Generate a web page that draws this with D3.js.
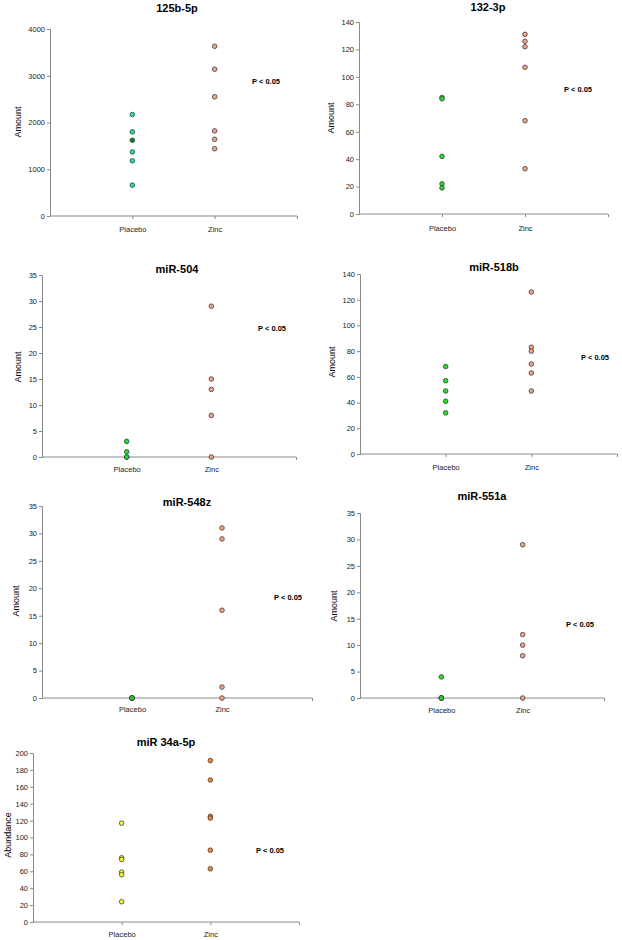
<!DOCTYPE html>
<html>
<head>
<meta charset="utf-8">
<script src="https://cdn.jsdelivr.net/npm/d3@7"></script>
<style>
  html, body { margin: 0; padding: 0; background: #fff; }
  svg { display: block; font-family: "Liberation Sans", Arial, sans-serif; -webkit-font-smoothing: antialiased; }
</style>
</head>
<body>
<svg id="chart" width="622" height="940"></svg>
<script>
// ---------------- DATA ----------------
const categories = ["Placebo", "Zinc"];
const titles = ["125b-5p", "132-3p", "miR-504", "miR-518b", "miR-548z", "miR-551a", "miR 34a-5p"];
const yLabels = ["Amount", "Amount", "Amount", "Amount", "Amount", "Amount", "Abundance"];
const pLabel = "P < 0.05";
const yMaxes = [4000, 140, 35, 140, 35, 35, 200];
const yTickSteps = [1000, 20, 5, 20, 5, 5, 20];

const mir125bPlacebo = [2170, 1800, 1620, 1370, 1180, 660];
const mir125bZinc    = [3630, 3140, 2550, 1820, 1640, 1440];
const mir132Placebo  = [85, 84, 42, 22, 19];
const mir132Zinc     = [131, 126, 122, 107, 68, 33];
const mir504Placebo  = [3, 1, 0, 0];
const mir504Zinc     = [29, 15, 13, 8, 0];
const mir518bPlacebo = [68, 57, 49, 41, 32];
const mir518bZinc    = [126, 83, 80, 70, 63, 49];
const mir548zPlacebo = [0, 0, 0, 0, 0];
const mir548zZinc    = [31, 29, 16, 2, 0];
const mir551aPlacebo = [4, 0, 0, 0, 0];
const mir551aZinc    = [29, 12, 10, 8, 0];
const mir34aPlacebo  = [117, 76, 74, 59, 56, 24];
const mir34aZinc     = [191, 168, 125, 123, 85, 63];

const placeboSeries = [mir125bPlacebo, mir132Placebo, mir504Placebo, mir518bPlacebo, mir548zPlacebo, mir551aPlacebo, mir34aPlacebo];
const zincSeries    = [mir125bZinc, mir132Zinc, mir504Zinc, mir518bZinc, mir548zZinc, mir551aZinc, mir34aZinc];

// ---------------- LAYOUT / STYLE ----------------
const layouts = [
  {x0: 50,  x1: 297, yTop: 29,  y0: 216, title: [177, 12],  p: [266, 84],  yl: [18, 122],  xl: 232},
  {x0: 359, x1: 608, yTop: 22,  y0: 214, title: [488, 11],  p: [578, 92],  yl: [331, 118], xl: 231},
  {x0: 42,  x1: 296, yTop: 275, y0: 457, title: [177, 273], p: [272, 331], yl: [18, 367],  xl: 472},
  {x0: 360, x1: 617, yTop: 274, y0: 454, title: [494, 271], p: [595, 360], yl: [332, 362], xl: 470},
  {x0: 42,  x1: 312, yTop: 506, y0: 698, title: [187, 506], p: [288, 600], yl: [16, 601],  xl: 712},
  {x0: 360, x1: 604, yTop: 513, y0: 698, title: [482, 500], p: [580, 627], yl: [334, 606], xl: 713},
  {x0: 33,  x1: 299, yTop: 753, y0: 922, title: [166, 746], p: [270, 853], yl: [8, 835],   xl: 937}
];
const placeboColors = ["#19e6a0", "#22e022", "#22e022", "#22e022", "#22e022", "#22e022", "#ffff20"];
const zincColors    = ["#f5a47c", "#f5a47c", "#f5a47c", "#f5a47c", "#f5a47c", "#f5a47c", "#f88a1c"];
const highlight = {panel: 0, index: 2, color: "#0a8a1a"};

const svg = d3.select("#chart");

layouts.forEach((L, i) => {
  const g = svg.append("g");
  const x = d3.scaleLinear().domain([0, 3]).range([L.x0, L.x1]);
  const y = d3.scaleLinear().domain([0, yMaxes[i]]).range([L.y0, L.yTop]);
  const ticks = d3.range(0, yMaxes[i] + 1e-9, yTickSteps[i]);

  // y axis
  const ya = g.append("g").attr("transform", `translate(${L.x0},0)`)
    .call(d3.axisLeft(y).tickValues(ticks).tickSize(3).tickPadding(2).tickFormat(d3.format("d")));
  ya.select(".domain").attr("stroke", "#8a8a8a");
  ya.selectAll(".tick line").attr("stroke", "#8a8a8a");
  ya.selectAll("text").attr("font-size", 7.5).attr("fill", "#222").attr("font-family", "Liberation Sans, Arial, sans-serif");

  // x axis
  const xa = g.append("g").attr("transform", `translate(0,${L.y0})`)
    .call(d3.axisBottom(x).tickValues([1, 2, 3]).tickSizeOuter(0).tickSize(3).tickPadding(9)
      .tickFormat(d => categories[d - 1] || ""));
  xa.select(".domain").attr("stroke", "#8a8a8a").attr("d", `M${L.x0},0H${L.x1}`);
  xa.selectAll(".tick line").attr("stroke", "#8a8a8a");
  xa.selectAll("text").attr("font-size", 7.5).attr("fill", "#222").attr("font-family", "Liberation Sans, Arial, sans-serif")
    .attr("dy", null)
    .attr("y", L.xl - L.y0);

  // title
  g.append("text").attr("x", L.title[0]).attr("y", L.title[1]).attr("text-anchor", "middle")
    .attr("font-size", 11).attr("font-weight", "bold").attr("fill", "#000").text(titles[i]);

  // y label
  g.append("text").attr("transform", `translate(${L.yl[0] + 3},${L.yl[1]}) rotate(-90)`)
    .attr("text-anchor", "middle").attr("font-size", 9).attr("fill", "#000").text(yLabels[i]);

  // p label
  g.append("text").attr("x", L.p[0]).attr("y", L.p[1]).attr("text-anchor", "middle")
    .attr("font-size", 7.5).attr("font-weight", "bold").attr("fill", "#000").text(pLabel);

  // points
  const pts = [];
  placeboSeries[i].forEach((v, j) => pts.push({c: 1, v, color: (i === highlight.panel && j === highlight.index) ? highlight.color : placeboColors[i]}));
  zincSeries[i].forEach(v => pts.push({c: 2, v, color: zincColors[i]}));
  g.selectAll("circle.pt").data(pts).enter().append("circle")
    .attr("class", "pt")
    .attr("cx", d => x(d.c)).attr("cy", d => y(d.v)).attr("r", 2.3)
    .attr("fill", d => d.color).attr("stroke", "#3a3a4a").attr("stroke-width", 0.8);
});
</script>
</body>
</html>
